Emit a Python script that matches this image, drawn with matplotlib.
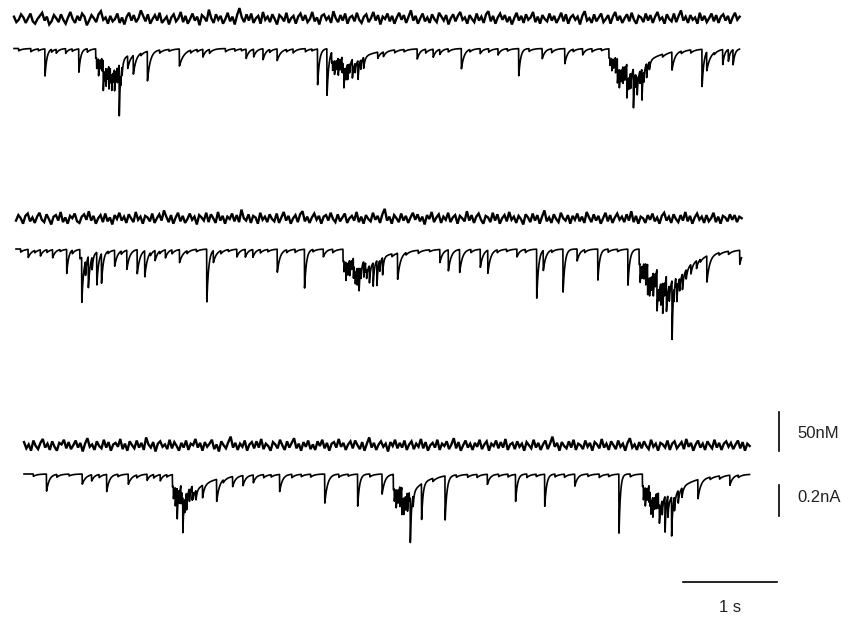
import numpy as np
import matplotlib.pyplot as plt

plt.rcParams['font.family'] = ['Liberation Sans', 'DejaVu Sans']

# [Ca2+] traces (nM, relative to resting level), one sample every 25 ms
ca1 = [
    3, -4, -1, 6, 2, -5, 1, 7, -3, -6, 0, 4, 8, -2, 3, -7, -3, 5, 1, -4,
    6, -1, -6, 2, 9, 0, -5, 4, -2, 7, 3, -8, -2, 5, 1, -4, 6, 10, -1, 2,
    -6, 4, -3, 0, 7, -5, 2, -7, 3, 8, -2, 5, -4, 1, 11, 4, -3, 6, -6, 0,
    5, -2, 8, -5, -1, 3, -7, 2, 6, -3, 1, 9, -4, 4, -6, 0, 7, -2, 3, -8,
    5, 2, -3, 12, 1, -5, 6, -1, 4, -6, 0, 8, -3, 3, -7, 5, 14, 2, -4, 6,
    -2, 7, -5, 1, 4, -6, 9, -1, 3, -4, 6, 0, -7, 5, 2, -3, 8, -5, 1, 4,
    -6, 3, 7, -2, 5, -4, 0, 9, -3, 2, -7, 4, 6, -1, 3, -5, 10, 1, -4, 5,
    -2, 7, -6, 2, 4, -3, 8, -1, -5, 3, 6, -4, 1, 9, -2, 5, -7, 3, 0, 7,
    -3, 4, -6, 2, 8, -1, 5, -5, 3, 11, -2, 4, -6, 1, 7, -3, 2, -5, 6, 0,
    -4, 8, 3, -2, 5, -7, 1, 6, -3, 4, 9, -1, 2, -6, 5, 0, -4, 7, -2, 3,
    -5, 6, 10, -3, 4, -6, 2, 7, -1, 5, -4, 3, -7, 1, 8, -2, 4, -5, 6, -1,
    2, 9, -4, 3, -6, 5, 0, -3, 7, -2, 4, -5, 1, 8, -3, 6, -6, 2, 5, -1,
    3, -7, 4, 10, -2, 1, -5, 6, -3, 2, 7, -4, 0, 5, -6, 3, 9, -2, 4, -5,
    1, 6, -3, 8, -1, -6, 4, 2, -4, 7, -2, 5, -5, 3, 9, -1, 2, -6, 6, 0,
    -3, 7, -4, 4, 11, -2, 3, -5, 5, -1, 2, -6, 8, -2, 4, -4, 1, 7, -3, 5,
    -5, 3, 6, -2, 4, -6, 2, 8, -1, 3,
]
ca2 = [
    -2, 5, 1, -6, 4, 7, -3, 2, -5, 3, 8, -1, -4, 6, 0, -7, 3, 5, -2, 9,
    -4, 2, -6, 4, 1, 7, -3, -5, 3, 6, -1, 10, -2, 4, -6, 1, 5, -4, 7, -3,
    2, -7, 5, 0, 8, -2, 3, -5, 6, 1, -4, 9, -1, 3, -6, 4, 2, -3, 7, -5,
    1, 6, -2, 11, 3, -4, 5, -6, 2, 8, -3, 4, -5, 0, 7, -1, 3, -7, 5, 2,
    -2, 8, -4, 6, 1, -5, 9, -2, 4, -6, 3, 0, 7, -3, 5, -4, 12, 1, -2, 6,
    -5, 4, 2, -6, 8, -1, 3, -4, 6, 0, -3, 7, -5, 2, 9, -2, 4, -6, 1, 5,
    -4, 6, 10, -3, 3, -5, 2, 7, -1, 4, -6, 3, 5, -2, 8, 0, -4, 6, -3, 2,
    7, -5, 1, 4, -2, 9, -4, 3, -6, 5, 0, -3, 8, -1, 4, -5, 6, 13, -2, 3,
    -6, 5, 1, -4, 7, -2, 4, -5, 2, 8, -1, 6, -3, 3, -7, 5, 0, 9, -4, 2,
    6, -5, 3, -1, 8, -4, 2, 5, -6, 4, 1, -3, 10, -2, 5, -5, 3, 7, -1, -6,
    4, 2, -4, 8, -2, 6, -6, 1, 5, -3, 9, -1, 3, -5, 4, 0, -7, 6, 2, -4,
    7, -2, 5, -6, 3, 11, -3, 2, -5, 6, 0, -4, 8, 1, -2, 5, -6, 4, -1, 7,
    -3, 3, -5, 9, 2, -4, 6, -2, 4, -6, 1, 8, -3, 5, -5, 2, 7, -1, 3, -4,
    6, -2, 10, -4, 4, -6, 3, 1, -5, 5, -1, 7, -3, 2, -6, 4, 8, -2, 3, -5,
    6, 0, -4, 5, -2, 9, -3, 4, -6, 2, 7, -1, 3, -5, 5, -3, 1, 8, -4, 3,
    -6, 4, 2, -3, 6, -1, 5, -4, 3, 1,
]
ca3 = [
    5, -3, 2, -6, 7, 0, -4, 4, 9, -2, 3, -5, 6, -1, -6, 4, 2, 8, -3, 5,
    -4, 1, 7, -2, 4, -7, 3, 10, -1, 2, -5, 6, 0, -3, 8, -2, 5, -6, 2, 4,
    -1, 9, -4, 3, -6, 6, 1, -3, 7, -2, 4, -5, 11, 2, -2, 5, -7, 3, 6, -1,
    2, -4, 8, -3, 5, 0, -6, 4, -2, 7, -5, 3, 1, 9, -2, 4, -6, 5, -1, 3,
    8, -4, 2, -7, 6, 1, -3, 5, 12, -2, 4, -5, 3, -1, 7, -6, 2, 5, -3, 6,
    -2, 9, -4, 3, 0, -6, 5, 2, -3, 8, 1, -5, 6, -2, 4, 10, -3, 3, -6, 5,
    -1, 7, -4, 2, -5, 6, 0, 8, -3, 4, -6, 3, 5, -2, 9, -1, 4, -5, 2, 6,
    -3, 7, 1, -4, 5, -6, 3, 11, -2, 4, -5, 2, 6, -1, 3, -7, 5, 0, 8, -3,
    4, -2, 7, -5, 2, 6, -4, 3, -1, 9, -3, 5, -6, 1, 4, -2, 8, -5, 3, 0,
    6, -4, 2, 10, -3, 5, -6, 1, 7, -2, 3, -5, 4, -1, 8, -4, 2, 6, -6, 3,
    0, 7, -3, 5, -2, 9, -5, 2, 4, -4, 6, -1, 3, -6, 5, 1, -3, 8, -2, 4,
    -5, 2, 7, -4, 3, 12, -1, 4, -6, 5, 0, -3, 6, -2, 8, -5, 3, 1, -4, 7,
    -1, 4, -6, 5, 2, -3, 9, -2, 3, -5, 6, 1, -4, 7, -1, 3, -6, 4, 10, -2,
    2, -5, 5, -3, 6, 0, -4, 8, -1, 3, -6, 4, 2, -2, 7, -5, 3, 6, -3, 1,
    5, -4, 9, -1, 4, -6, 2, 7, -2, 3, -5, 6, 1, -3, 8, -2, 4, -5, 3, 6,
    -1, 4, -4, 2, 7, -3, 5, -6, 3, 0,
]

# synaptic currents: (onset s, peak pA, decay tau s)
ev1 = [
    (0.33, -175, 0.02), (0.45, -25, 0.03), (0.55, -30, 0.03), (0.69, -150, 0.02),
    (0.87, -60, 0.2), (0.95, -70, 0.2), (1.03, -60, 0.15),
    (0.88, -70, 0.012), (0.90, -110, 0.012), (0.92, -60, 0.01), (0.935, -90, 0.012),
    (0.95, -130, 0.012), (0.965, -70, 0.01), (0.98, -120, 0.012), (0.995, -80, 0.01),
    (1.01, -150, 0.012), (1.025, -90, 0.01), (1.04, -110, 0.012), (1.055, -70, 0.01),
    (1.07, -140, 0.012), (1.085, -80, 0.01), (1.10, -100, 0.012), (1.12, -330, 0.012),
    (1.135, -80, 0.01), (1.15, -60, 0.012),
    (1.21, -80, 0.03), (1.27, -120, 0.03), (1.42, -190, 0.03), (1.76, -110, 0.05),
    (2.01, -50, 0.03), (2.47, -60, 0.03), (2.55, -50, 0.03), (2.65, -70, 0.03),
    (2.80, -75, 0.04),
    (3.23, -230, 0.02), (3.33, -300, 0.02),
    (3.38, -70, 0.2), (3.50, -70, 0.2), (3.60, -40, 0.15),
    (3.39, -60, 0.012), (3.41, -90, 0.012), (3.43, -60, 0.01), (3.45, -110, 0.012),
    (3.47, -70, 0.01), (3.49, -100, 0.012), (3.51, -130, 0.012), (3.53, -80, 0.01),
    (3.55, -100, 0.012), (3.57, -60, 0.01), (3.60, -80, 0.012), (3.63, -60, 0.01),
    (3.66, -120, 0.012), (3.69, -60, 0.01), (3.72, -70, 0.015),
    (3.87, -40, 0.03), (3.93, -30, 0.03),
    (4.29, -65, 0.03), (4.46, -52, 0.03), (4.53, -32, 0.03), (4.76, -130, 0.03),
    (4.96, -32, 0.03), (5.15, -40, 0.03), (5.37, -175, 0.02), (5.62, -65, 0.03),
    (5.86, -97, 0.03), (6.05, -40, 0.03),
    (6.33, -60, 0.25), (6.42, -90, 0.2), (6.52, -90, 0.2), (6.62, -60, 0.15),
    (6.34, -50, 0.012), (6.36, -80, 0.012), (6.38, -60, 0.01), (6.40, -100, 0.012),
    (6.42, -70, 0.01), (6.44, -120, 0.012), (6.46, -80, 0.01), (6.48, -110, 0.012),
    (6.50, -90, 0.01), (6.52, -130, 0.012), (6.54, -80, 0.01), (6.56, -100, 0.012),
    (6.59, -250, 0.012), (6.61, -90, 0.01), (6.63, -120, 0.012), (6.66, -80, 0.01),
    (6.68, -200, 0.012), (6.70, -70, 0.01), (6.73, -90, 0.012), (6.76, -50, 0.012),
    (7.00, -116, 0.03), (7.32, -240, 0.02), (7.37, -120, 0.05), (7.54, -97, 0.02),
    (7.60, -75, 0.02), (7.65, -97, 0.02),
]
ev2 = [
    (0.13, -52, 0.04), (0.26, -40, 0.03), (0.39, -52, 0.03), (0.54, -155, 0.02),
    (0.68, -60, 0.15), (0.70, -290, 0.02), (0.74, -90, 0.012), (0.77, -200, 0.02),
    (0.81, -80, 0.012), (0.86, -210, 0.02), (0.91, -190, 0.02),
    (1.05, -103, 0.03), (1.18, -123, 0.03), (1.29, -155, 0.03), (1.37, -168, 0.03),
    (1.48, -65, 0.03), (1.59, -52, 0.03), (1.74, -84, 0.04), (2.03, -340, 0.02),
    (2.10, -77, 0.04), (2.35, -50, 0.03), (2.44, -50, 0.03), (2.52, -50, 0.03),
    (2.78, -148, 0.03), (3.07, -250, 0.02), (3.27, -50, 0.03),
    (3.48, -80, 0.2), (3.60, -80, 0.2), (3.72, -60, 0.2),
    (3.49, -70, 0.012), (3.51, -120, 0.012), (3.53, -80, 0.01), (3.55, -100, 0.012),
    (3.57, -60, 0.01), (3.59, -130, 0.012), (3.61, -80, 0.01), (3.63, -110, 0.012),
    (3.65, -150, 0.012), (3.67, -70, 0.01), (3.70, -100, 0.012), (3.73, -60, 0.01),
    (3.76, -110, 0.012), (3.80, -150, 0.012), (3.84, -160, 0.012), (3.87, -70, 0.01),
    (3.90, -110, 0.012),
    (4.06, -168, 0.03), (4.51, -84, 0.03), (4.60, -135, 0.03), (4.72, -148, 0.03),
    (4.94, -116, 0.03), (5.02, -148, 0.03), (5.33, -50, 0.03), (5.54, -316, 0.02),
    (5.61, -129, 0.03), (5.82, -277, 0.02), (5.97, -77, 0.03), (6.19, -200, 0.02),
    (6.51, -232, 0.02),
    (6.63, -100, 0.2), (6.72, -120, 0.2), (6.82, -140, 0.2), (6.92, -110, 0.2),
    (7.02, -60, 0.2),
    (6.64, -120, 0.012), (6.66, -80, 0.01), (6.68, -100, 0.012), (6.70, -140, 0.012),
    (6.72, -80, 0.01), (6.74, -120, 0.012), (6.76, -90, 0.01), (6.78, -150, 0.012),
    (6.80, -90, 0.01), (6.82, -130, 0.012), (6.84, -80, 0.01), (6.86, -140, 0.012),
    (6.88, -200, 0.012), (6.90, -90, 0.01), (6.92, -120, 0.012), (6.95, -100, 0.012),
    (6.98, -380, 0.012), (7.00, -90, 0.01), (7.03, -120, 0.012), (7.06, -80, 0.012),
    (7.09, -100, 0.015), (7.13, -60, 0.015), (7.18, -60, 0.02), (7.24, -50, 0.02),
    (7.35, -168, 0.03), (7.70, -90, 0.03),
]
ev3 = [
    (0.24, -110, 0.03), (0.62, -65, 0.04), (0.72, -40, 0.03), (0.88, -110, 0.03),
    (1.11, -65, 0.04), (1.31, -40, 0.03), (1.45, -40, 0.03),
    (1.58, -80, 0.2), (1.68, -80, 0.2), (1.80, -50, 0.2),
    (1.59, -80, 0.012), (1.61, -120, 0.012), (1.63, -200, 0.012), (1.65, -90, 0.01),
    (1.67, -120, 0.012), (1.69, -230, 0.012), (1.71, -90, 0.01), (1.73, -110, 0.012),
    (1.76, -80, 0.01), (1.79, -90, 0.012), (1.83, -60, 0.012), (1.90, -80, 0.02),
    (2.05, -142, 0.03), (2.22, -65, 0.03), (2.33, -65, 0.03), (2.44, -50, 0.03),
    (2.72, -110, 0.03), (3.20, -187, 0.03), (3.55, -206, 0.02), (3.81, -129, 0.03),
    (3.93, -100, 0.15), (4.02, -100, 0.15), (4.10, -60, 0.15),
    (3.94, -80, 0.012), (3.96, -120, 0.012), (3.98, -90, 0.01), (4.00, -130, 0.012),
    (4.02, -80, 0.01), (4.04, -110, 0.012), (4.06, -90, 0.01), (4.08, -120, 0.012),
    (4.11, -290, 0.012), (4.14, -70, 0.01), (4.23, -230, 0.015),
    (4.48, -284, 0.02), (4.93, -65, 0.03), (5.23, -174, 0.02),
    (5.54, -206, 0.02), (5.86, -77, 0.03), (6.33, -380, 0.015),
    (6.58, -80, 0.2), (6.66, -100, 0.2), (6.75, -100, 0.2), (6.85, -60, 0.2),
    (6.59, -90, 0.012), (6.61, -120, 0.012), (6.63, -80, 0.01), (6.65, -110, 0.012),
    (6.67, -90, 0.01), (6.69, -130, 0.012), (6.71, -80, 0.01), (6.73, -100, 0.012),
    (6.76, -120, 0.012), (6.79, -90, 0.01), (6.82, -230, 0.012), (6.85, -80, 0.01),
    (6.89, -250, 0.012), (6.92, -90, 0.012), (6.96, -80, 0.015), (7.00, -60, 0.015),
    (7.17, -123, 0.03), (7.51, -65, 0.03),
]

# small blips on the current baselines (onset s, peak pA)
minor1 = [(0.05, -15), (0.18, -20), (0.26, -12), (0.40, -18), (0.62, -15),
          (0.78, -22), (1.35, -15), (1.55, -20), (1.65, -12), (1.88, -18),
          (1.95, -15), (2.08, -25), (2.25, -20), (2.35, -15), (2.42, -12),
          (2.72, -18), (2.90, -15), (2.97, -25), (3.10, -20), (3.17, -12),
          (4.05, -18), (4.15, -15), (4.38, -25), (4.62, -20), (4.85, -15),
          (5.05, -22), (5.25, -15), (5.48, -18), (5.72, -25), (5.95, -15),
          (6.15, -20), (6.25, -12), (6.90, -18), (7.10, -15), (7.20, -20),
          (7.45, -12)]
minor2 = [(0.05, -20), (0.20, -15), (0.33, -18), (0.47, -12), (0.60, -22),
          (0.98, -15), (1.12, -20), (1.43, -18), (1.53, -15), (1.66, -25),
          (1.82, -18), (1.92, -15), (2.18, -20), (2.26, -12), (2.60, -22),
          (2.68, -15), (2.88, -18), (2.97, -20), (3.16, -15), (3.37, -22),
          (4.00, -18), (4.15, -15), (4.28, -20), (4.40, -12), (4.84, -20),
          (5.12, -18), (5.22, -15), (5.42, -20), (5.70, -15), (6.05, -18),
          (6.30, -20), (6.40, -15), (7.28, -18), (7.48, -15), (7.58, -20)]
minor3 = [(0.10, -15), (0.35, -18), (0.48, -12), (0.80, -20), (1.00, -15),
          (1.20, -18), (1.38, -22), (1.52, -15), (2.12, -18), (2.55, -20),
          (2.63, -15), (2.85, -22), (2.95, -15), (3.05, -18), (3.35, -20),
          (3.45, -12), (3.68, -18), (4.35, -20), (4.60, -15), (4.72, -18),
          (4.82, -20), (5.05, -15), (5.15, -18), (5.35, -22), (5.45, -15),
          (5.65, -18), (5.75, -20), (6.00, -15), (6.12, -22), (6.22, -15),
          (6.45, -18), (7.30, -15), (7.40, -20), (7.60, -15)]

duration = 7.72
rows = [(ca1, ev1, minor1), (ca2, ev2, minor2), (ca3, ev3, minor3)]

# pixel-like drawing units: 94 px per second, y grows downward
PX_PER_S = 94
CA_GAIN = 39 / 50     # px per nM
I_GAIN = 31 / 200     # px per pA
x_starts = [14, 16, 24]
ca_base = [19, 219, 446]
i_base = [48.5, 249, 474]


def current_trace(events, blips, dur, dt=0.002):
    t = np.arange(0, dur, dt)
    cur = np.zeros_like(t)
    for t0, amp, tau in list(events) + [(b[0], b[1], 0.04) for b in blips]:
        s = t - t0
        m = s >= 0
        cur[m] += amp * np.exp(-s[m] / tau)
    return t, cur


fig = plt.figure(figsize=(8.55, 6.26), dpi=100)
ax = fig.add_axes([0, 0, 1, 1])
ax.set_xlim(0, 855 / PX_PER_S)
ax.set_ylim(626, 0)
ax.axis('off')

for k, (ca, ev, blips) in enumerate(rows):
    x0 = x_starts[k] / PX_PER_S
    tc = np.linspace(0, duration, len(ca))
    ax.plot(x0 + tc, ca_base[k] - np.array(ca) * CA_GAIN, color='black', lw=1.7,
            solid_joinstyle='miter')
    ti, cur = current_trace(ev, blips, duration)
    ax.plot(x0 + ti, i_base[k] - cur * I_GAIN, color='black', lw=1.2)

# scale bars
bx = 779 / PX_PER_S
ax.plot([bx, bx], [451, 451 - 50 * CA_GAIN], color='black', lw=1.2)
ax.plot([bx, bx], [516, 516 - 200 * I_GAIN], color='black', lw=1.2)
ax.plot([683 / PX_PER_S, 683 / PX_PER_S + 1.0], [582, 582], color='black', lw=1.2)
ax.text(797 / PX_PER_S, 434, '50nM', fontsize=12, color='#222', va='center', ha='left')
ax.text(797 / PX_PER_S, 498, '0.2nA', fontsize=12, color='#222', va='center', ha='left')
ax.text(730 / PX_PER_S, 607, '1 s', fontsize=12, color='#222', va='center', ha='center')

fig.savefig('out.png', dpi=100)
